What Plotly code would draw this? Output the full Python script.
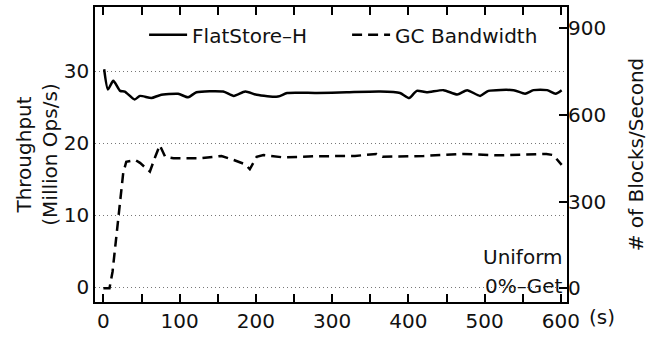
import plotly.graph_objects as go

# FlatStore-H throughput (Million Ops/s), left axis
t_fs = [1, 6, 13, 22, 28, 41, 48, 63, 74, 98, 111, 122, 157, 171, 186, 201, 229, 241,
        280, 319, 363, 389, 401, 411, 424, 446, 464, 477, 494, 505, 538, 553, 564, 582, 593, 601]
fs_vals = [30.3, 27.5, 28.7, 27.3, 27.2, 26.1, 26.6, 26.3, 26.7, 26.9, 26.4, 27.1, 27.2, 26.6, 27.2, 26.75, 26.5, 27.0,
           27.0, 27.1, 27.2, 27.0, 26.3, 27.3, 27.1, 27.4, 26.8, 27.4, 26.6, 27.3, 27.4, 26.9, 27.4, 27.4, 26.9, 27.4]

# GC Bandwidth (# of blocks/second), right axis
t_gc = [0, 8, 12, 20, 26, 30, 42, 48, 61, 68, 74, 81, 92, 127, 155, 171, 186, 192, 201, 210,
        236, 280, 330, 358, 366, 420, 472, 520, 581, 590, 601]
gc_vals = [0, 0, 57, 250, 399, 438, 444, 434, 404, 455, 495, 455, 450, 450, 458, 444, 429, 412, 455, 461,
           453, 457, 458, 465, 455, 458, 465, 460, 465, 461, 427]

x_ticks = [0, 100, 200, 300, 400, 500, 600]
x_minor = [50, 150, 250, 350, 450, 550]
y_ticks = [0, 10, 20, 30]
y2_ticks = [0, 300, 600, 900]

FONT = "DejaVu Sans"
fig = go.Figure()
fig.add_trace(go.Scatter(x=t_fs, y=fs_vals, mode="lines", name="FlatStore\u2013H",
                         line=dict(color="black", width=2.5, shape="spline", smoothing=0.6)))
fig.add_trace(go.Scatter(x=t_gc, y=gc_vals, mode="lines", name="GC Bandwidth", yaxis="y2",
                         line=dict(color="black", width=2.5, dash="10px,6px")))

fig.update_layout(
    width=661, height=338,
    margin=dict(l=95, r=94, t=5, b=34),
    paper_bgcolor="white", plot_bgcolor="white",
    font=dict(family=FONT, size=20, color="#111111"),
    showlegend=True,
    legend=dict(orientation="h", x=0.104, y=0.906, xanchor="left", yanchor="middle",
                bgcolor="rgba(0,0,0,0)", font=dict(size=20), itemwidth=38,
                entrywidth=150, entrywidthmode="pixels"),
    xaxis=dict(range=[-11, 608], tickvals=x_ticks, ticks="inside", ticklen=8, tickwidth=1.5,
               tickcolor="black", showline=True, linecolor="black", linewidth=1.5,
               mirror="allticks", showgrid=False, zeroline=False,
               minor=dict(tickvals=x_minor, ticks="inside", ticklen=5,
                          tickwidth=1.5, tickcolor="black", showgrid=False),
               tickfont=dict(size=20)),
    yaxis=dict(range=[-2.06, 38.96], tickvals=y_ticks, ticks="", showline=True,
               linecolor="black", linewidth=1.5, mirror=True, zeroline=False,
               showgrid=True, gridcolor="#777777", griddash="1px,3px", gridwidth=1,
               title=dict(text="Throughput<br>(Million Ops/s)", standoff=1, font=dict(size=20)),
               tickfont=dict(size=20)),
    yaxis2=dict(range=[-47.8, 973.8], tickvals=y2_ticks, overlaying="y", side="right",
                ticks="inside", ticklen=8, tickwidth=1.5, tickcolor="black", showline=False,
                showgrid=False, zeroline=False,
                title=dict(text="# of Blocks/Second", standoff=23, font=dict(size=20)),
                tickfont=dict(size=20)),
    annotations=[
        dict(text="Uniform", xref="paper", yref="paper", x=0.995, y=(304 - 258) / 299,
             xanchor="right", yanchor="middle", showarrow=False, font=dict(size=20)),
        dict(text="0%\u2013Get", xref="paper", yref="paper", x=0.995, y=(304 - 288) / 299,
             xanchor="right", yanchor="middle", showarrow=False, font=dict(size=20)),
        dict(text="(s)", xref="paper", yref="paper", x=(602 - 567) / 472 + 1, y=(304 - 319) / 299,
             xanchor="center", yanchor="middle", showarrow=False, font=dict(size=20)),
    ],
)
fig.write_html("out.html")
